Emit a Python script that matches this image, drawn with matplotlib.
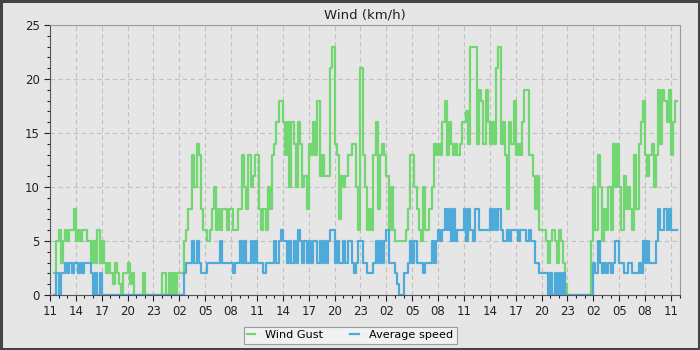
import numpy as np
import matplotlib
matplotlib.use("Agg")
import matplotlib.pyplot as plt
from matplotlib.ticker import MultipleLocator

# 15-minute readings, hours counted from 11:00 of day 1; first reading at 11:30
START = 0.5
STEP = 0.25

gust = [
    2, 5,
    6, 3, 5, 6,   5, 6, 6, 8,   5, 6, 5, 6,   6, 5, 5, 3,
    5, 3, 6, 3,   5, 3, 2, 3,   2, 1, 3, 2,   1, 0, 2, 2,
    3, 1, 2, 0,   0, 0, 0, 2,   0, 0, 0, 0,   0, 0, 0, 0,
    2, 2, 0, 2,   0, 2, 0, 2,   2, 2, 5, 6,   8, 8, 13, 10,
    14, 13, 8, 6, 6, 5, 6, 8,   10, 6, 8, 6,  8, 8, 6, 8,
    8, 6, 6, 8,   8, 13, 10, 8, 13, 10, 11, 13, 13, 8, 6, 8,
    6, 10, 8, 13, 14, 16, 18, 18, 16, 13, 16, 10, 16, 14, 10, 16,
    14, 10, 11, 8, 14, 13, 16, 13, 18, 11, 13, 11, 11, 11, 21, 23,
    14, 13, 7, 11, 10, 11, 13, 13, 14, 14, 10, 6, 21, 13, 10, 6,
    8, 6, 13, 16, 8, 13, 14, 13, 11, 6, 10, 6,  5, 5, 5, 5,
    5, 6, 8, 13,  13, 10, 8, 6, 5, 10, 6, 6,  8, 10, 14, 13,
    14, 13, 16, 18, 13, 16, 14, 13, 14, 13, 14, 16, 16, 17, 14, 23,
    23, 23, 14, 19, 18, 14, 19, 16, 14, 16, 14, 21, 23, 14, 16, 13,
    8, 16, 14, 18, 13, 14, 13, 16, 19, 19, 13, 13, 11, 8, 11, 6,
    6, 6, 5, 3,   5, 6, 5, 3,   6, 5, 3, 1,   0, 0, 0, 0,
    0, 0, 0, 0,   0, 0, 0, 5,   10, 6, 13, 10, 5, 8, 6, 10,
    6, 14, 10, 14, 10, 6, 11, 8, 10, 8, 6, 13, 8, 14, 16, 18,
    13, 11, 13, 14, 10, 13, 19, 14, 19, 18, 16, 19, 13, 16, 18,
]

avg_speed = [
    0, 2,
    0, 2, 2, 3,   2, 3, 2, 3,   3, 2, 3, 2,   3, 3, 3, 2,
    0, 2, 0, 2,   0, 0, 0, 0,   0, 0, 0, 0,   0, 0, 0, 0,
    0, 0, 0, 0,   0, 0, 0, 0,   0, 0, 0, 0,   0, 0, 0, 0,
    0, 0, 0, 0,   0, 0, 0, 0,   0, 0, 2, 3,   3, 3, 5, 3,
    5, 3, 2, 2,   2, 3, 3, 3,   3, 3, 3, 5,   3, 3, 3, 3,
    3, 2, 3, 3,   5, 3, 5, 3,   3, 5, 3, 5,   3, 3, 3, 2,
    3, 3, 3, 3,   5, 3, 5, 6,   5, 5, 3, 5,   3, 5, 3, 6,
    5, 3, 5, 3,   5, 3, 5, 5,   3, 5, 3, 5,   3, 5, 6, 6,
    3, 5, 3, 3,   5, 3, 5, 5,   3, 2, 3, 5,   5, 3, 3, 2,
    2, 2, 3, 5,   3, 5, 3, 5,   6, 3, 3, 3,   2, 1, 0, 0,
    2, 2, 3, 5,   3, 5, 3, 3,   3, 2, 3, 3,   3, 5, 3, 5,
    6, 5, 6, 8,   6, 8, 5, 8,   5, 6, 6, 6,   8, 5, 8, 6,
    5, 8, 8, 6,   6, 6, 6, 6,   8, 6, 8, 6,   8, 6, 5, 5,
    6, 5, 6, 6,   6, 5, 6, 6,   6, 5, 6, 5,   5, 3, 3, 2,
    2, 2, 2, 0,   2, 0, 2, 0,   2, 0, 2, 0,   0, 0, 0, 0,
    0, 0, 0, 0,   0, 0, 0, 0,   3, 2, 5, 3,   2, 3, 2, 3,
    2, 3, 5, 5,   3, 3, 2, 2,   3, 3, 2, 2,   2, 3, 2, 5,
    3, 5, 3, 3,   3, 5, 8, 6,   6, 8, 6, 8,   6, 6, 6,
]

hour_labels = ["11", "14", "17", "20", "23", "02", "05", "08",
               "11", "14", "17", "20", "23", "02", "05", "08",
               "11", "14", "17", "20", "23", "02", "05", "08", "11"]

t_gust = START + STEP * np.arange(len(gust) + 1)
t_avg = START + STEP * np.arange(len(avg_speed) + 1)
g = np.append(gust, gust[-1])
a = np.append(avg_speed, avg_speed[-1])

BG = "#e6e6e6"
fig = plt.figure(figsize=(7, 3.5), dpi=100, facecolor=BG)
ax = fig.add_axes([50 / 700, 1 - 295 / 350, 630 / 700, 270 / 350])
ax.set_facecolor(BG)

ax.step(t_gust, g, where="post", color="#72d672", lw=1.6, label="Wind Gust")
ax.step(t_avg, a, where="post", color="#4eaad9", lw=1.6, label="Average speed")

ax.set_xlim(0, 73.05)
ax.set_ylim(0, 25)
ax.set_xticks(np.arange(0, 73, 3))
ax.set_xticklabels(hour_labels)
ax.xaxis.set_minor_locator(MultipleLocator(1))
ax.yaxis.set_major_locator(MultipleLocator(5))
ax.yaxis.set_minor_locator(MultipleLocator(1))
ax.tick_params(which="both", direction="out", colors="#222222", labelsize=8.5)
ax.tick_params(which="major", length=4, width=0.8)
ax.tick_params(which="minor", length=2.5, width=0.8)
ax.grid(True, which="major", color="#c0c0c0", ls=(0, (4, 3)), lw=0.8)
for s in ["left", "bottom"]:
    ax.spines[s].set_color("#555555")
for s in ["top", "right"]:
    ax.spines[s].set_color("#999999")

ax.set_title("Wind (km/h)", fontsize=9.5, color="#222222", pad=5)

leg = fig.legend(loc="lower center", bbox_to_anchor=(0.5, 3 / 350), ncol=2,
                 fontsize=8.1, frameon=True, fancybox=False, handlelength=0.75,
                 columnspacing=2.4, borderpad=0.3, handletextpad=0.9,
                 borderaxespad=0.3)
leg.get_frame().set_facecolor("#f4f4f4")
leg.get_frame().set_edgecolor("#888888")
leg.get_frame().set_linewidth(0.8)

# dark outer frame of the picture
fig.patches.append(plt.Rectangle((0.0015, 0.003), 0.997, 0.994,
                                 transform=fig.transFigure, fill=False,
                                 edgecolor="#444444", lw=2.2))

fig.savefig("out.png", facecolor=BG)
